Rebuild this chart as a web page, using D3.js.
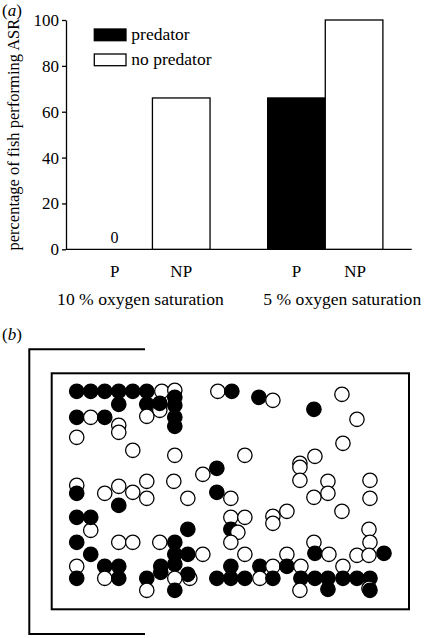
<!DOCTYPE html>
<html>
<head>
<meta charset="utf-8">
<script src="https://cdn.jsdelivr.net/npm/d3@7"></script>
<style>
  html, body { margin: 0; padding: 0; background: #fff; }
  svg { display: block; }
</style>
</head>
<body>
<svg id="chart" width="430" height="638"></svg>
<script>
// ---------- Panel (a) data ----------
const groups = ["10 % oxygen saturation", "5 % oxygen saturation"];
const treatments = ["P", "NP"];
const predatorValues = [0, 66];
const noPredatorValues = [66, 100];
const yTicks = [0, 20, 40, 60, 80, 100];
const legendLabels = ["predator", "no predator"];

// ---------- Panel (b) data: fish positions in tank units (0-357 wide, 0-236 high) ----------
// [x, y, predatorTank(1) / noPredatorTank(0)]
const fishTop = [
  [25,18,1],[39,18,1],[53,18,1],[67,18,1],[81,18,1],[95,18,1],[110,18,0],[123,17,0],
  [67,31,1],[95,31,1],[108,37,0],[108,30,1],[123,24,1],[123,32,1],[123,44,1],[123,53,1],
  [95,43,0],[25,44,1],[39,44,0],[53,44,1],[67,52,0],[67,59,0],[25,64,0],[81,77,0],[123,82,0],
  [166,18,0],[180,18,1],[207,24,1],[221,27,0],[262,36,1],[290,21,0],[305,46,0],[291,70,0],
  [193,82,0],[263,83,0],[248,90,0],[248,94,0],[151,101,0],[165,95,1]
];
const fishMiddle = [
  [25,112,0],[25,120,1],[53,120,0],[67,113,0],[81,119,0],[67,132,1],[95,108,0],[95,125,0],
  [122,108,0],[136,125,0],[165,119,1],[179,125,0],[248,107,0],[276,108,0],[276,120,0],[262,124,0],
  [318,107,0],[318,125,0],[290,138,0],[235,138,0],[221,143,0],[221,150,0],[179,144,0],[193,144,0],
  [179,156,1],[186,159,0],[179,169,0],[39,157,0],[25,144,1],[39,144,1],[136,156,1],
  [317,156,0],[318,169,0],[262,169,0]
];
const fishBottom = [
  [25,169,1],[67,169,0],[81,169,0],[108,169,0],[123,169,1],[39,181,1],[123,181,1],[136,181,1],
  [151,181,0],[193,181,0],[235,181,0],[263,180,1],[277,181,0],[305,182,0],[317,182,0],[332,180,1],
  [25,193,0],[53,193,1],[67,193,1],[109,193,1],[123,191,1],[179,193,1],[208,193,1],[221,193,0],
  [235,193,1],[249,193,0],[291,193,0],
  [25,205,1],[53,205,0],[67,205,1],[95,205,1],[109,199,1],[138,205,0],[136,201,1],[123,205,0],
  [165,205,1],[179,205,1],[193,205,1],[208,205,0],[221,205,1],[249,205,1],[263,205,1],[276,205,1],
  [291,205,1],[305,205,1],[318,205,1],
  [95,217,0],[123,217,1],[248,217,0],[276,216,1],[317,215,0],[318,217,1]
];
const fish = fishTop.concat(fishMiddle, fishBottom);
const tankSize = [357, 236];

// ---------- Drawing ----------
const FONT = "'Liberation Serif', 'Times New Roman', Times, 'DejaVu Serif', serif";
const svg = d3.select("#chart");
svg.append("rect").attr("width", 430).attr("height", 638).attr("fill", "#fff");

// Panel (a)
const plotLeft = 66, plotRight = 411.7, plotTop = 20, plotBottom = 249.3;
const y = d3.scaleLinear().domain([0, 100]).range([plotBottom, plotTop]);
const x0 = d3.scaleBand().domain(groups).range([plotLeft, plotRight])
  .paddingInner(1/3).paddingOuter(1/6);
const x1 = d3.scaleBand().domain(treatments).range([0, x0.bandwidth()]).padding(0);

const gA = svg.append("g");

const yAxis = d3.axisLeft(y).tickValues(yTicks).tickSize(4).tickSizeOuter(0).tickPadding(3);
const yg = gA.append("g").attr("transform", `translate(${plotLeft},0)`).call(yAxis);
yg.attr("font-family", null).attr("font-size", null);
yg.select(".domain").attr("stroke", "#000").attr("stroke-width", 1.3);
yg.selectAll(".tick line").attr("stroke", "#000").attr("stroke-width", 1.3);
yg.selectAll(".tick text").style("font-family", FONT).style("font-size", "17px").attr("fill", "#000");

// x baseline
gA.append("line")
  .attr("x1", plotLeft).attr("x2", plotRight)
  .attr("y1", y(0)).attr("y2", y(0))
  .attr("stroke", "#000").attr("stroke-width", 1.3);

const barData = [];
groups.forEach((g, i) => {
  barData.push({ group: g, t: "P", v: predatorValues[i], fill: "#000" });
  barData.push({ group: g, t: "NP", v: noPredatorValues[i], fill: "#fff" });
});

gA.selectAll("rect.bar").data(barData.filter(d => d.v > 0)).join("rect")
  .attr("class", "bar")
  .attr("x", d => x0(d.group) + x1(d.t))
  .attr("y", d => y(d.v))
  .attr("width", x1.bandwidth())
  .attr("height", d => y(0) - y(d.v))
  .attr("fill", d => d.fill)
  .attr("stroke", "#000").attr("stroke-width", 1.3);

function txt(sel, size) {
  return sel.style("font-family", FONT).style("font-size", size + "px").attr("fill", "#000");
}

// zero label
txt(gA.selectAll("text.zero").data(barData.filter(d => d.v === 0)).join("text")
  .attr("class", "zero")
  .attr("x", d => x0(d.group) + x1(d.t) + x1.bandwidth() / 2 - 9)
  .attr("y", d => y(d.v) - 6)
  .attr("text-anchor", "middle")
  .text(d => String(d.v)), 16);

// treatment labels
const labelDx = { "10 % oxygen saturation": [-9, 0], "5 % oxygen saturation": [0, 1] };
txt(gA.selectAll("text.treat").data(barData).join("text")
  .attr("class", "treat")
  .attr("x", d => x0(d.group) + x1(d.t) + x1.bandwidth() / 2 + labelDx[d.group][treatments.indexOf(d.t)])
  .attr("y", 277)
  .attr("text-anchor", "middle")
  .text(d => d.t), 17);

// group labels
const groupDx = [-12, 17];
txt(gA.selectAll("text.grp").data(groups).join("text")
  .attr("class", "grp")
  .attr("x", (d, i) => x0(d) + x0.bandwidth() / 2 + groupDx[i])
  .attr("y", 305)
  .attr("text-anchor", "middle")
  .text(d => d), 17.6);

// y-axis title
txt(gA.append("text")
  .attr("transform", `translate(19,${(plotTop + plotBottom) / 2}) rotate(-90)`)
  .attr("text-anchor", "middle")
  .text("percentage of fish performing ASR"), 16.5);

// legend
const legend = gA.append("g").attr("transform", "translate(94.3,29)");
legendLabels.forEach((lab, i) => {
  legend.append("rect")
    .attr("x", 0).attr("y", i * 25)
    .attr("width", 31.7).attr("height", 11.7)
    .attr("fill", i === 0 ? "#000" : "#fff")
    .attr("stroke", "#000").attr("stroke-width", 1.3);
  txt(legend.append("text")
    .attr("x", 37).attr("y", i * 25 + 10.5)
    .text(lab), 17.5);
});

// panel labels
function panelLabel(letter, yPos) {
  const t = txt(svg.append("text").attr("x", 2).attr("y", yPos), 17);
  t.append("tspan").text("(");
  t.append("tspan").attr("font-style", "italic").text(letter);
  t.append("tspan").text(")");
}
panelLabel("a", 15.5);
panelLabel("b", 340);

// Panel (b)
const tankLeft = 51.7, tankRight = 409, tankTop = 373.3, tankBottom = 609.3;
const tx = d3.scaleLinear().domain([0, tankSize[0]]).range([tankLeft, tankRight]);
const ty = d3.scaleLinear().domain([0, tankSize[1]]).range([tankTop, tankBottom]);

// outer bracket
svg.append("path")
  .attr("d", `M145,349.3 H29.3 V634 H145`)
  .attr("fill", "none").attr("stroke", "#000").attr("stroke-width", 2);

// tank
svg.append("rect")
  .attr("x", tx(0)).attr("y", ty(0))
  .attr("width", tx(tankSize[0]) - tx(0)).attr("height", ty(tankSize[1]) - ty(0))
  .attr("fill", "none").attr("stroke", "#000").attr("stroke-width", 2);

svg.append("g").selectAll("circle").data(fish).join("circle")
  .attr("cx", d => tx(d[0]))
  .attr("cy", d => ty(d[1]))
  .attr("r", 7.2)
  .attr("fill", d => d[2] ? "#000" : "#fff")
  .attr("stroke", "#000").attr("stroke-width", 1.3);
</script>
</body>
</html>
